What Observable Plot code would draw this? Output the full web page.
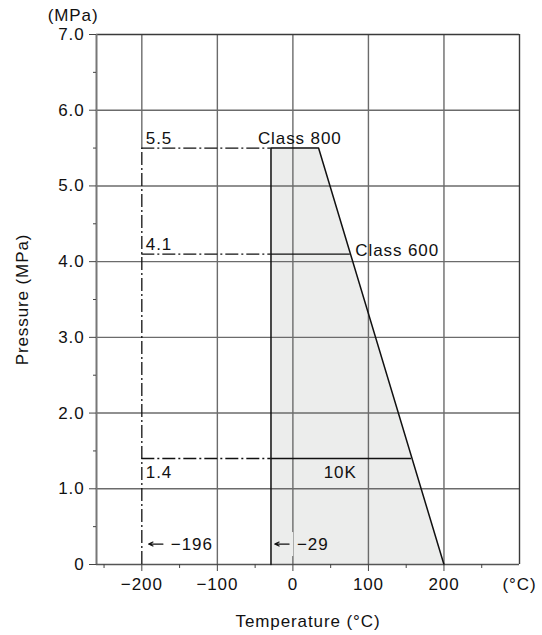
<!DOCTYPE html>
<html><head><meta charset="utf-8">
<script src="https://cdn.jsdelivr.net/npm/d3@7"></script>
<script src="https://cdn.jsdelivr.net/npm/@observablehq/plot@0.6"></script>
<style>
body{margin:0;background:#fff}
#chart svg{display:block;font-family:"Liberation Sans",Arial,Helvetica,sans-serif;letter-spacing:0.9px}
</style>
</head><body><div id="chart"></div>
<script>
// ---- data ----
const xDomain = [-260, 300];
const yDomain = [0, 7];
const xTicks = [-200, -100, 0, 100, 200];
const xTickLabels = ["−200", "−100", "0", "100", "200"];
const xUnitTick = [300];
const xUnitLabel = ["(°C)"];
const xMinorTicks = [-250, -150, -50, 50, 150, 250];
const yTicks = [0, 1, 2, 3, 4, 5, 6, 7];
const yTickLabels = ["0", "1.0", "2.0", "3.0", "4.0", "5.0", "6.0", "7.0"];
const yMinorTicks = [0.5, 1.5, 2.5, 3.5, 4.5, 5.5, 6.5];
const xGrid = [-100, 0, 100, 200];
const yGrid = [1, 2, 3, 4, 5, 6];
// pressure–temperature envelope
const envTemp = [-29, -29, 34, 200];
const envPress = [0, 5.5, 5.5, 0];
// rating classes
const classNames = ["Class 800", "Class 600", "10K"];
const classPress = [5.5, 4.1, 1.4];
const classPressLabels = ["5.5", "4.1", "1.4"];
const classTempEnd = [34, 76, 157];
const minTemp = -29;        // minimum service temperature
const cryoTemp = -196;      // cryogenic service temperature
const cryoLine = -200;      // drawn on the −200 grid line
const cryoTop = 5.5;
const tempNotes = [
  {t: cryoTemp, label: "−196", halo: "#ffffff"},
  {t: minTemp, label: "−29", halo: "#ecedec"}
];
const noteY = 0.27;

const shade = "#ecedec";
const gridC = "#6b6b6b";
const frameC = "#3a3a3a";
const fs = 17;

const envelope = envTemp.map((t, i) => ({t, p: envPress[i]}));
const classes = classNames.map((n, i) => ({name: n, p: classPress[i], label: classPressLabels[i], tEnd: classTempEnd[i]}));

const chart = Plot.plot({
  width: 542,
  height: 635,
  marginLeft: 96,
  marginRight: 23,
  marginTop: 34,
  marginBottom: 71,
  x: {type: "linear", domain: xDomain},
  y: {type: "linear", domain: yDomain},
  style: {fontSize: fs + "px", color: "#111", background: "#fff"},
  marks: [
    // shaded envelope
    Plot.areaY(envelope.slice(1), {x: "t", y: "p", fill: shade}),
    // grid
    Plot.ruleX(xGrid, {stroke: gridC, strokeWidth: 1.4}),
    Plot.ruleX([cryoLine], {y1: cryoTop, y2: yDomain[1], stroke: gridC, strokeWidth: 1.4}),
    Plot.ruleY(yGrid, {stroke: gridC, strokeWidth: 1.4}),
    // frame
    Plot.ruleY([yDomain[1]], {stroke: frameC, strokeWidth: 1.4}),
    Plot.ruleX([xDomain[1]], {stroke: frameC, strokeWidth: 1.4}),
    Plot.ruleX([xDomain[0]], {stroke: "#777", strokeWidth: 2}),
    Plot.ruleY([0], {stroke: "#555", strokeWidth: 1.6}),
    // dash-dot reference lines
    Plot.ruleX([cryoLine], {y1: 0, y2: cryoTop, stroke: "#111", strokeWidth: 1.3, strokeDasharray: "13,3,2,3"}),
    Plot.ruleY(classes, {y: "p", x1: cryoLine, x2: minTemp, stroke: "#111", strokeWidth: 1.3, strokeDasharray: "13,3,2,3"}),
    // solid class lines
    Plot.ruleY(classes.slice(1), {y: "p", x1: minTemp, x2: "tEnd", stroke: "#111", strokeWidth: 1.3}),
    // envelope outline
    Plot.line(envelope, {x: "t", y: "p", stroke: "#111", strokeWidth: 1.5}),
    // pressure value labels
    Plot.text(classes.slice(0, 2), {x: cryoLine, y: "p", text: "label", textAnchor: "start", dx: 4, dy: -10, fill: "#111"}),
    Plot.text(classes.slice(2), {x: cryoLine, y: "p", text: "label", textAnchor: "start", dx: 4, dy: 14, fill: "#111"}),
    // class names
    Plot.text(classes.slice(0, 1), {x: d => (minTemp + d.tEnd) / 2, y: "p", text: "name", dx: 5, dy: -10, fill: "#111"}),
    Plot.text(classes.slice(1, 2), {x: "tEnd", y: "p", text: "name", textAnchor: "start", dx: 5, dy: -4, fill: "#111"}),
    Plot.text(classes.slice(2, 3), {x: d => (minTemp + d.tEnd) / 2, y: "p", text: "name", dx: -1, dy: 14, fill: "#111"}),
    // temperature annotations: halo, arrow, label
    Plot.ruleY(tempNotes, {y: noteY, x1: d => d.t + 4, x2: d => d.t + 30, stroke: "halo", strokeWidth: 24}),
    Plot.text(tempNotes, {x: "t", y: noteY, text: "label", textAnchor: "start", dx: 26, fill: "#111", stroke: "halo", strokeWidth: 6, paintOrder: "stroke"}),
    Plot.arrow(tempNotes, {x1: d => d.t + 24, x2: d => d.t + 5, y1: noteY, y2: noteY, stroke: "#111", strokeWidth: 1.2, headLength: 6, headAngle: 50}),
    // axes
    Plot.axisX(xTicks, {tickFormat: (d, i) => xTickLabels[i], tickSize: 7, tickPadding: 6, stroke: "#444", fill: "#111", label: null}),
    Plot.axisX(xUnitTick, {tickFormat: (d, i) => xUnitLabel[i], tickSize: 0, tickPadding: 13, fill: "#111", label: null}),
    Plot.axisX(xMinorTicks, {tickFormat: () => "", tickSize: 4, stroke: "#444", label: null}),
    Plot.axisY(yTicks, {tickFormat: (d, i) => yTickLabels[i], tickSize: 7, tickPadding: 5, stroke: "#444", fill: "#111", label: null}),
    Plot.axisY(yMinorTicks, {tickFormat: () => "", tickSize: 3, stroke: "#444", label: null}),
    // axis titles
    Plot.text(["Temperature (°C)"], {frameAnchor: "bottom", lineAnchor: "middle", textAnchor: "middle", dy: 57, fill: "#111"}),
    Plot.text(["Pressure (MPa)"], {frameAnchor: "left", lineAnchor: "middle", textAnchor: "middle", rotate: -90, dx: -74, fill: "#111"}),
    Plot.text(["(MPa)"], {frameAnchor: "top-left", lineAnchor: "middle", textAnchor: "end", dx: 2, dy: -19, fill: "#111"})
  ]
});
document.getElementById("chart").appendChild(chart);
</script>
</body></html>
